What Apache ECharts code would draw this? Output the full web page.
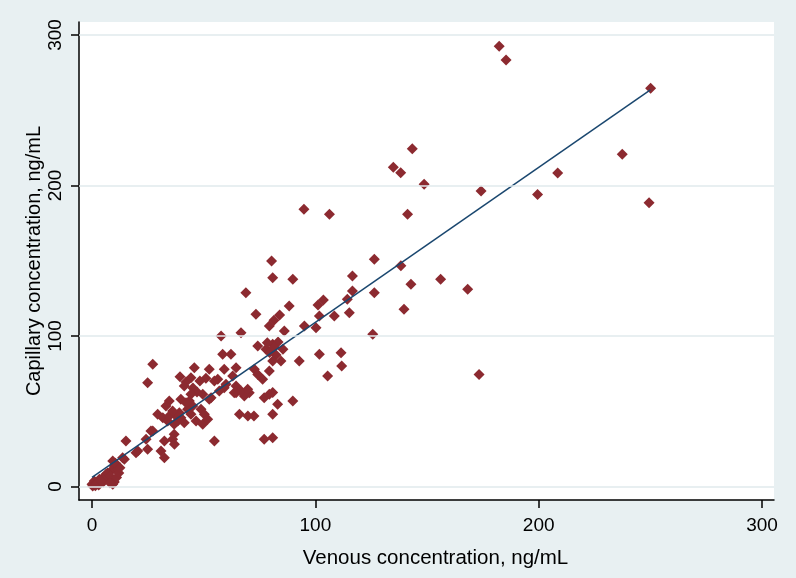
<!DOCTYPE html>
<html>
<head>
<meta charset="utf-8">
<script src="https://cdn.jsdelivr.net/npm/echarts@6/dist/echarts.min.js"></script>
<style>
html,body{margin:0;padding:0;background:#e8f0f2;}
#chart{width:796px;height:578px;}
</style>
</head>
<body>
<div id="chart"></div>
<script>
// Venous (x) and capillary (y) concentrations, ng/mL
const venous = [
182.3,185.4,250.1,143.4,134.9,138.2,148.7,174.2,199.5,208.5,237.4,249.4,141.3,106.3,94.9,138.3,142.8,156.1,168.2,139.7,173.3,126.4,116.6,116.6,114.3,126.4,115.2,125.7,111.5,111.8,105.5,101.8,92.8,
80.4,80.9,89.9,68.9,88.3,73.4,79.4,81.5,84.0,101.2,103.6,101.8,108.5,66.7,86.1,95.1,100.3,
74.2,77.9,80.9,83.3,85.5,82.4,79.5,81.5,78.5,
84.6,80.9,79.4,72.7,76.4,74.2,64.5,63.0,64.5,68.2,70.4,77.1,79.4,80.9,83.1,89.9,66.0,69.8,72.5,80.9,77.1,80.9,
57.8,58.5,62.2,45.8,52.5,59.2,56.3,51.0,54.8,59.2,64.5,27.2,39.4,42.1,45.2,47.0,48.3,57.0,60.0,53.3,49.6,63.7,66.7,69.7,34.6,33.1,39.8,43.6,45.1,42.8,44.3,48.8,50.3,52.5,29.4,31.7,33.9,36.8,39.8,41.3,46.6,49.6,36.8,26.4,42.1,39.1,37.6,34.6,41.3,44.3,36.1,38.4,51.8,44.3,
15.2,24.2,20.5,24.9,30.9,32.4,36.1,36.9,14.5,54.8,24.9,19.7,13.7,32.4,27.2,
9.3,10.0,8.5,11.5,6.3,7.7,9.3,4.8,3.3,1.0,0.0,0.3,2.0,5.0,6.0,7.0,8.0,3.0,1.5,4.0,10.0,11.0,12.0,8.0,10.5,12.5
];
const capillary = [
292.5,283.4,264.6,224.5,212.1,208.5,200.8,196.3,194.1,208.3,220.7,188.6,180.9,180.9,184.2,146.7,134.4,137.7,131.0,117.7,74.5,151.0,139.9,129.9,124.4,128.8,115.5,101.1,88.9,80.1,73.4,87.8,83.4,
149.8,138.7,137.7,128.8,119.9,114.4,106.6,110.5,114.0,120.6,123.9,113.3,113.3,102.2,103.3,106.6,105.5,
93.4,91.2,94.5,96.0,91.2,87.4,89.0,92.5,95.5,
83.4,83.4,76.7,77.9,71.2,74.5,78.9,73.4,62.3,60.1,62.3,59.0,61.3,62.5,54.6,56.8,48.0,46.8,46.8,48.0,31.4,32.4,
100.0,87.8,87.8,78.9,77.9,77.9,71.2,72.0,70.1,65.6,66.8,81.2,73.0,69.4,65.4,62.8,70.1,63.5,67.9,59.0,61.3,62.3,63.5,64.6,56.8,53.5,57.9,56.8,53.5,51.3,48.0,51.3,48.0,57.9,48.0,45.7,43.5,41.3,45.7,42.4,43.5,41.3,34.7,36.9,55.7,49.0,46.8,46.8,66.8,61.3,50.2,43.5,44.7,72.3,
30.2,31.4,23.6,24.7,23.6,19.1,31.4,28.0,18.1,30.2,69.0,22.5,19.1,30.2,36.9,
16.9,13.6,10.3,11.4,8.1,4.8,1.5,5.8,4.8,3.7,1.5,0.3,2.0,3.0,6.0,9.0,7.0,1.0,0.5,3.5,3.0,6.0,9.0,2.5,15.5,12.5
];
// Fitted line endpoints
const fitX = [0, 250];
const fitY = [6.0, 263.5];
const xTicks = [0, 100, 200, 300];
const yTicks = [0, 100, 200, 300];

const points = venous.map((v, i) => [v, capillary[i]]);
const fitLine = fitX.map((v, i) => [v, fitY[i]]);

const chart = echarts.init(document.getElementById('chart'), null, {renderer: 'canvas'});
const font = '"Liberation Sans", Arial, sans-serif';
chart.setOption({
  animation: false,
  backgroundColor: '#e8f0f2',
  grid: {left: 79, right: 22, top: 22, bottom: 78, show: true, backgroundColor: '#ffffff', borderWidth: 0},
  xAxis: {
    type: 'value', min: -5.82, max: 305.35,
    name: 'Venous concentration, ng/mL', nameLocation: 'middle', nameGap: 48, nameMoveOverlap: false,
    nameTextStyle: {fontSize: 20.5, color: '#000', fontFamily: font, padding: [0, 0, 0, 18]},
    axisLine: {show: true, onZero: false, lineStyle: {color: '#000', width: 1.5}},
    axisTick: {show: true, customValues: xTicks, length: 8, lineStyle: {color: '#000', width: 1.5}},
    axisLabel: {customValues: xTicks, fontSize: 19, color: '#000', fontFamily: font, margin: 16},
    splitLine: {show: false}
  },
  yAxis: {
    type: 'value', min: -8.97, max: 308.64,
    name: 'Capillary concentration, ng/mL', nameLocation: 'middle', nameGap: 35, nameMoveOverlap: false,
    nameTextStyle: {fontSize: 20, color: '#000', fontFamily: font},
    axisLine: {show: true, onZero: false, lineStyle: {color: '#000', width: 1.5}},
    axisTick: {show: true, customValues: yTicks, length: 8, lineStyle: {color: '#000', width: 1.5}},
    axisLabel: {customValues: yTicks, fontSize: 19, color: '#000', fontFamily: font, rotate: 90, margin: 14},
    splitLine: {show: false}
  },
  series: [
    {
      type: 'scatter', data: [], silent: true, z: 1,
      markLine: {
        silent: true, symbol: ['none', 'none'], label: {show: false},
        lineStyle: {color: '#e0eaed', width: 1.5, type: 'solid'},
        data: yTicks.map(v => ({yAxis: v}))
      }
    },
    {
      type: 'scatter', data: points, symbol: 'diamond', symbolSize: 11, z: 2,
      itemStyle: {color: '#8c2a30', opacity: 1}
    },
    {
      type: 'line', data: fitLine, symbol: 'none', z: 3,
      lineStyle: {color: '#1a476f', width: 1.5}
    }
  ]
});
</script>
</body>
</html>
